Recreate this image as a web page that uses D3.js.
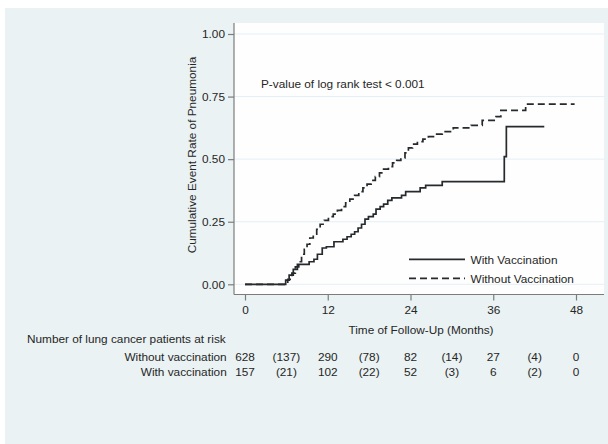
<!DOCTYPE html>
<html>
<head>
<meta charset="utf-8">
<script src="https://cdnjs.cloudflare.com/ajax/libs/d3/7.8.5/d3.min.js"></script>
<style>
  body { margin: 0; background: #fff; }
  svg text { font-family: "Liberation Sans", Arial, Helvetica, sans-serif; fill: #262626; font-size: 11.8px; }
</style>
</head>
<body>
<div id="chart"></div>
<script>
// Kaplan-Meier style cumulative curves [month, rate]
var withVacc = [
  [0, 0], [5.9, 0.017], [6.4, 0.037], [7.0, 0.06], [7.6, 0.08], [9.3, 0.09],
  [10.0, 0.10], [10.5, 0.12], [11.2, 0.145], [11.8, 0.15], [12.9, 0.17],
  [14.2, 0.18], [14.8, 0.19], [15.4, 0.20], [15.9, 0.21], [16.4, 0.225],
  [16.9, 0.24], [17.4, 0.26], [17.9, 0.27], [18.6, 0.28], [19.0, 0.30],
  [19.6, 0.31], [20.1, 0.32], [20.7, 0.335], [21.3, 0.345], [22.7, 0.355],
  [23.3, 0.37], [25.4, 0.385], [26.2, 0.395], [28.6, 0.41], [37.6, 0.51],
  [37.9, 0.63], [43.4, 0.63]
];
var withoutVacc = [
  [0, 0], [6.2, 0.02], [6.8, 0.045], [7.3, 0.07], [7.8, 0.09], [8.2, 0.12],
  [8.6, 0.14], [9.0, 0.16], [9.4, 0.185], [9.9, 0.20], [10.4, 0.22],
  [10.9, 0.24], [11.5, 0.255], [12.1, 0.27], [12.8, 0.28], [13.4, 0.295],
  [14.0, 0.31], [14.6, 0.325], [15.2, 0.34], [15.9, 0.355], [16.5, 0.37],
  [17.1, 0.385], [17.7, 0.40], [18.3, 0.415], [18.9, 0.43], [19.5, 0.445],
  [20.1, 0.46], [20.8, 0.47], [21.4, 0.485], [22.0, 0.495], [22.6, 0.505],
  [23.2, 0.525], [23.7, 0.545], [24.3, 0.56], [25.0, 0.57], [25.8, 0.58],
  [26.6, 0.59], [27.5, 0.60], [28.6, 0.61], [30.2, 0.625], [32.8, 0.635],
  [34.4, 0.655], [36.4, 0.67], [37.1, 0.695], [40.7, 0.72], [47.8, 0.72]
];

var xTicks = [0, 12, 24, 36, 48];
var yTicks = [0, 0.25, 0.5, 0.75, 1];

// numbers at risk table
var riskMonths = [0, 6, 12, 18, 24, 30, 36, 42, 48];
var riskRows = ["Without vaccination", "With vaccination"];
var withoutRisk = ["628", "(137)", "290", "(78)", "82", "(14)", "27", "(4)", "0"];
var withRisk = ["157", "(21)", "102", "(22)", "52", "(3)", "6", "(2)", "0"];

var legendLabels = ["With Vaccination", "Without Vaccination"];

window.onload = () => {
  var width = 608,
      height = 444;

  var svg = d3.select("#chart").append("svg")
    .attr("width", width)
    .attr("height", height);

  // outer background
  svg.append("rect")
    .attr("x", 5).attr("y", 8)
    .attr("width", width - 5).attr("height", height - 8)
    .attr("fill", "#eaf2f3");

  var plotLeft = 234, plotRight = 604, plotTop = 23, plotBottom = 294.5;
  var axisColor = "#7c7c7c";

  svg.append("rect")
    .attr("x", plotLeft).attr("y", plotTop)
    .attr("width", plotRight - plotLeft).attr("height", plotBottom - plotTop)
    .attr("fill", "#fefefe");

  var x = d3.scaleLinear().domain([0, 48]).range([245, 576]);
  var y = d3.scaleLinear().domain([0, 1]).range([284.3, 34]);

  // grid lines
  svg.append("g").selectAll("line")
    .data(yTicks)
    .enter().append("line")
    .attr("x1", plotLeft).attr("x2", plotRight)
    .attr("y1", d => y(d)).attr("y2", d => y(d))
    .attr("stroke", "#e4eff6")
    .attr("stroke-width", 1);

  // y axis
  var yAxis = svg.append("g")
    .attr("transform", "translate(" + plotLeft + ",0)")
    .call(d3.axisLeft(y).tickValues(yTicks).tickFormat(d3.format(".2f")).tickSize(6).tickPadding(3));
  yAxis.select(".domain").remove();
  yAxis.append("line")
    .attr("x1", 0).attr("x2", 0)
    .attr("y1", plotTop).attr("y2", plotBottom);

  // x axis
  var xAxis = svg.append("g")
    .attr("transform", "translate(0," + plotBottom + ")")
    .call(d3.axisBottom(x).tickValues(xTicks).tickSize(6).tickPadding(5));
  xAxis.select(".domain").remove();
  xAxis.append("line")
    .attr("x1", plotLeft).attr("x2", plotRight)
    .attr("y1", 0).attr("y2", 0);

  [xAxis, yAxis].forEach(ax => {
    ax.attr("font-family", null).attr("font-size", null);
    ax.selectAll("line").attr("stroke", axisColor).attr("stroke-width", 1.2);
    ax.selectAll("text").attr("fill", null);
  });

  // axis titles
  svg.append("text")
    .attr("transform", "translate(196,155) rotate(-90)")
    .attr("text-anchor", "middle")
    .text("Cumulative Event Rate of Pneumonia");

  svg.append("text")
    .attr("x", 421).attr("y", 334.3)
    .attr("text-anchor", "middle")
    .text("Time of Follow-Up (Months)");

  // curves
  var line = d3.line()
    .x(d => x(d[0]))
    .y(d => y(d[1]))
    .curve(d3.curveStepAfter);

  svg.append("path")
    .datum(withoutVacc)
    .attr("d", line)
    .attr("fill", "none")
    .attr("stroke", "#262a2c")
    .attr("stroke-width", 1.7)
    .attr("stroke-dasharray", "7,4");

  svg.append("path")
    .datum(withVacc)
    .attr("d", line)
    .attr("fill", "none")
    .attr("stroke", "#262a2c")
    .attr("stroke-width", 1.7);

  // annotation
  svg.append("text")
    .attr("x", 261).attr("y", 88.3)
    .text("P-value of log rank test < 0.001");

  // legend
  var legend = svg.append("g").selectAll("g")
    .data(legendLabels)
    .enter().append("g")
    .attr("transform", (d, i) => "translate(409," + (259.3 + i * 19) + ")");

  legend.append("line")
    .attr("x1", 0).attr("x2", 56)
    .attr("y1", 0).attr("y2", 0)
    .attr("stroke", "#262a2c")
    .attr("stroke-width", 1.7)
    .attr("stroke-dasharray", (d, i) => i === 1 ? "7,4" : null);

  legend.append("text")
    .attr("x", 61.5).attr("y", 4.2)
    .text(d => d);

  // number at risk table
  svg.append("text")
    .attr("x", 27).attr("y", 343.3)
    .text("Number of lung cancer patients at risk");

  var rows = [withoutRisk, withRisk];
  rows.forEach((vals, r) => {
    var rowY = 361 + r * 14.7;
    svg.append("text")
      .attr("x", 226.7).attr("y", rowY)
      .attr("text-anchor", "end")
      .text(riskRows[r]);

    svg.append("g").selectAll("text")
      .data(vals)
      .enter().append("text")
      .attr("x", (d, i) => x(riskMonths[i]))
      .attr("y", rowY)
      .attr("text-anchor", "middle")
      .text(d => d);
  });
}
</script>
</body>
</html>
